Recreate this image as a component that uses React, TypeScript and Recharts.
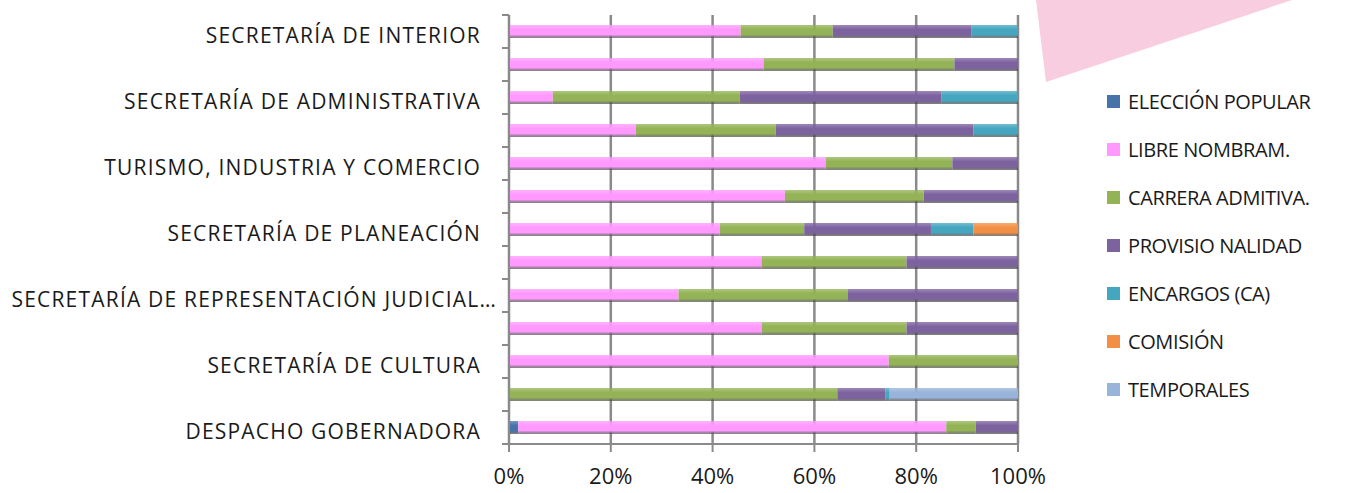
import { BarChart, Bar, XAxis, YAxis, CartesianGrid } from "recharts";

const categories = [
	"SECRETARÍA DE INTERIOR",
	"",
	"SECRETARÍA DE ADMINISTRATIVA",
	"",
	"TURISMO, INDUSTRIA Y COMERCIO",
	"",
	"SECRETARÍA DE PLANEACIÓN",
	"",
	"SECRETARÍA DE REPRESENTACIÓN JUDICIAL…",
	"",
	"SECRETARÍA DE CULTURA",
	"",
	"DESPACHO GOBERNADORA",
];

const eleccion = [0, 0, 0, 0, 0, 0, 0, 0, 0, 0, 0, 0, 1.8];
const libre = [45.5, 50, 8.6, 24.9, 62.2, 54.2, 41.4, 49.6, 33.3, 49.6, 74.6, 0, 84.1];
const carrera = [18.1, 37.5, 36.7, 27.5, 24.9, 27.3, 16.6, 28.5, 33.3, 28.5, 25.4, 64.5, 5.8];
const provisio = [27.3, 12.5, 39.6, 38.8, 12.9, 18.5, 24.9, 21.9, 33.4, 21.9, 0, 9.4, 8.3];
const encargos = [9.1, 0, 15.1, 8.8, 0, 0, 8.3, 0, 0, 0, 0, 0.9, 0];
const comision = [0, 0, 0, 0, 0, 0, 8.8, 0, 0, 0, 0, 0, 0];
const temporales = [0, 0, 0, 0, 0, 0, 0, 0, 0, 0, 0, 25.2, 0];

const xTicks = [0, 0.2, 0.4, 0.6, 0.8, 1];

const series = [
	{ key: "eleccion", name: "ELECCIÓN POPULAR", color: "#4674AA", values: eleccion },
	{ key: "libre", name: "LIBRE NOMBRAM.", color: "#FF99FF", values: libre },
	{ key: "carrera", name: "CARRERA ADMITIVA.", color: "#93B356", values: carrera },
	{ key: "provisio", name: "PROVISIO NALIDAD", color: "#7D62A0", values: provisio },
	{ key: "encargos", name: "ENCARGOS (CA)", color: "#45A6C0", values: encargos },
	{ key: "comision", name: "COMISIÓN", color: "#F38F45", values: comision },
	{ key: "temporales", name: "TEMPORALES", color: "#98B4DA", values: temporales },
];

const data = categories.map((name, i) => {
	const row: { [k: string]: string | number } = { name };
	series.forEach((s) => {
		row[s.key] = s.values[i];
	});
	return row;
});

const FONT = "'Open Sans', sans-serif";
const AXIS_GRAY = "#8a8a8a";
const Y_MARGIN = 22;
const BAND = 33;

// category label plus the little tick mark at the band boundary
const CategoryTick = (props: any) => {
	const { x, y, payload, index } = props;
	const axisX = x + 6 + Y_MARGIN;
	const label: string = payload.value || "";
	const shift = label.endsWith("…") ? 16 : 0;
	return (
		<g>
			<text
				x={x + shift}
				y={y}
				dy={6}
				textAnchor="end"
				dominantBaseline="middle"
				fill="#1a1a1a"
				style={{ fontFamily: FONT, fontSize: 21, letterSpacing: 1.2 }}
			>
				{label}
			</text>
			<line
				x1={axisX - 7}
				x2={axisX}
				y1={y - BAND / 2}
				y2={y - BAND / 2}
				stroke={AXIS_GRAY}
				strokeWidth={2}
			/>
			{index === categories.length - 1 && (
				<line
					x1={axisX - 7}
					x2={axisX}
					y1={y + BAND / 2}
					y2={y + BAND / 2}
					stroke={AXIS_GRAY}
					strokeWidth={2}
				/>
			)}
		</g>
	);
};

export default function App() {
	return (
		<div
			style={{
				position: "absolute",
				left: 0,
				top: 0,
				width: 1367,
				height: 493,
				background: "#fff",
				overflow: "hidden",
			}}
		>
			<svg
				width={1367}
				height={493}
				style={{ position: "absolute", left: 0, top: 0 }}
			>
				<polygon points="1036,0 1046,82 1292,0" fill="#F8CDE0" />
			</svg>
			<div style={{ position: "absolute", left: 0, top: 0 }}>
				<BarChart
					width={1367}
					height={493}
					data={data}
					layout="vertical"
					stackOffset="expand"
					barSize={13}
					margin={{ top: 15, right: 349, left: 0, bottom: 0 }}
				>
					<defs>
						{series.map((s) => (
							<linearGradient
								key={s.key}
								id={`grad-${s.key}`}
								x1="0"
								y1="0"
								x2="0"
								y2="1"
							>
								<stop offset="0%" stopColor={s.color} stopOpacity={0.75} />
								<stop offset="35%" stopColor={s.color} />
								<stop offset="75%" stopColor={s.color} />
								<stop offset="100%" stopColor="#333" stopOpacity={0.6} />
							</linearGradient>
						))}
					</defs>
					<CartesianGrid
						horizontal={false}
						stroke={AXIS_GRAY}
						strokeWidth={2.5}
					/>
					<XAxis
						type="number"
						domain={[0, 1]}
						ticks={xTicks}
						height={49}
						tickFormatter={(v: number) => `${Math.round(v * 100)}%`}
						stroke={AXIS_GRAY}
						strokeWidth={2}
						tickSize={8}
						tickMargin={16}
						tick={{ fill: "#1a1a1a", fontSize: 22, fontFamily: FONT }}
					/>
					<YAxis
						type="category"
						dataKey="name"
						width={509}
						stroke={AXIS_GRAY}
						strokeWidth={2}
						tickLine={false}
						tickMargin={Y_MARGIN}
						interval={0}
						tick={<CategoryTick />}
					/>
					{series.map((s) => (
						<Bar
							key={s.key}
							dataKey={s.key}
							name={s.name}
							stackId="a"
							fill={`url(#grad-${s.key})`}
							isAnimationActive={false}
						/>
					))}
				</BarChart>
			</div>
			<div
				style={{
					position: "absolute",
					left: 1107,
					top: 77,
					fontFamily: FONT,
				}}
			>
				{series.map((s) => (
					<div
						key={s.key}
						style={{ display: "flex", alignItems: "center", height: 48 }}
					>
						<span
							style={{
								width: 13,
								height: 13,
								background: s.color,
								marginRight: 8,
								display: "inline-block",
							}}
						/>
						<span
							style={{
								fontSize: 20,
								letterSpacing: -0.4,
								color: "#1a1a1a",
							}}
						>
							{s.name}
						</span>
					</div>
				))}
			</div>
		</div>
	);
}
